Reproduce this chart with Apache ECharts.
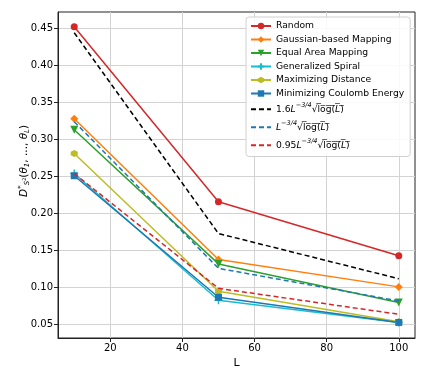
<!DOCTYPE html>
<html>
<head>
<meta charset="utf-8">
<script src="https://cdn.jsdelivr.net/npm/echarts@6/dist/echarts.min.js"></script>
<style>
  html, body { margin: 0; padding: 0; background: #fff; }
  #chart { width: 425px; height: 388px; }
</style>
</head>
<body>
<div id="chart"></div>
<script>
// sample sizes on the x axis
var L_values = [10, 50, 100];

// discrepancy per method
var randomVals   = [0.452, 0.216, 0.143];
var gaussianVals = [0.328, 0.138, 0.101];
var equalAreaVals = [0.313, 0.132, 0.080];
var spiralVals   = [0.254, 0.083, 0.053];
var maxDistVals  = [0.281, 0.095, 0.054];
var coulombVals  = [0.251, 0.087, 0.053];

// reference curves
var bound16Vals  = [0.444, 0.173, 0.112];
var bound1Vals   = [0.324, 0.126, 0.082];
var bound095Vals = [0.254, 0.099, 0.064];

var xTicks = [20, 40, 60, 80, 100];
var yTicks = [0.05, 0.10, 0.15, 0.20, 0.25, 0.30, 0.35, 0.40, 0.45];

function pairs(vals) {
  return L_values.map(function (l, i) { return [l, vals[i]]; });
}

var font = 'DejaVu Sans';
var plusPath = 'path://M5,0 L5,10 M0,5 L10,5';
var hexPath = 'path://M5,0 L9.33,2.5 L9.33,7.5 L5,10 L0.67,7.5 L0.67,2.5 Z';

function solid(name, vals, color, symbol, size, extra) {
  var s = {
    name: name,
    type: 'line',
    data: pairs(vals),
    symbol: symbol,
    symbolSize: size,
    lineStyle: { color: color, width: 1.5 },
    itemStyle: { color: color },
    z: 3
  };
  if (extra) { for (var k in extra) s[k] = extra[k]; }
  return s;
}

function dashed(name, vals, color) {
  return {
    name: name,
    type: 'line',
    data: pairs(vals),
    symbol: 'none',
    lineStyle: { color: color, width: 1.5, type: [5, 3] },
    itemStyle: { color: color },
    z: 4
  };
}

var overLog = 'l\u0305o\u0305g\u0305(\u0305';
var legendMath = {
  'b16': '{n|1.6}{i|L}{s|\u22123/4}{n|\u221A}{n|' + overLog + '}{i|L\u0305}{n|)\u0305}',
  'b1': '{i|L}{s|\u22123/4}{n|\u221A}{n|' + overLog + '}{i|L\u0305}{n|)\u0305}',
  'b095': '{n|0.95}{i|L}{s|\u22123/4}{n|\u221A}{n|' + overLog + '}{i|L\u0305}{n|)\u0305}'
};

var chart = echarts.init(document.getElementById('chart'));

var legendNames = ['Random', 'Gaussian-based Mapping', 'Equal Area Mapping', 'Generalized Spiral',
  'Maximizing Distance', 'Minimizing Coulomb Energy', 'b16', 'b1', 'b095'];

var option = {
  animation: false,
  textStyle: { fontFamily: font },
  grid: {
    left: 58, right: 10, top: 12, bottom: 50,
    outerBoundsMode: 'none',
    show: true, borderColor: '#222', borderWidth: 1
  },
  legend: {
    orient: 'vertical',
    left: 246, top: 17,
    padding: [3, 6, 3, 4],
    itemWidth: 20, itemHeight: 8,
    itemGap: 1.5,
    backgroundColor: 'rgba(255,255,255,0.85)',
    borderColor: '#d0d0d0', borderWidth: 1, borderRadius: 3,
    textStyle: {
      fontFamily: font, fontSize: 9.2, color: '#000', lineHeight: 12,
      rich: {
        n: { fontSize: 9.2, fontFamily: font, lineHeight: 16.5 },
        i: { fontSize: 9.2, fontFamily: font, fontStyle: 'italic', lineHeight: 16.5 },
        s: { fontSize: 6.5, fontFamily: font, fontStyle: 'italic', padding: [0, 0, 7, 0] }
      }
    },
    formatter: function (name) { return legendMath[name] || name; },
    data: legendNames.map(function (n) {
      if (n.charAt(0) === 'b') return { name: n, itemStyle: { opacity: 0 } };
      return { name: n };
    })
  },
  xAxis: {
    type: 'value',
    min: 5.5, max: 104.5,
    name: 'L', nameLocation: 'middle', nameGap: 20,
    nameMoveOverlap: false,
    nameTextStyle: { fontFamily: font, fontSize: 11, color: '#000' },
    axisLine: { show: true, onZero: false, lineStyle: { color: '#222' } },
    axisTick: { show: true, customValues: xTicks, length: 4, lineStyle: { color: '#222' } },
    axisLabel: { customValues: xTicks, fontFamily: font, fontSize: 10, color: '#000', margin: 5 },
    splitLine: { show: true, lineStyle: { color: '#d3d3d3', width: 1 } }
  },
  yAxis: {
    type: 'value',
    min: 0.032, max: 0.472,
    name: '{i|D}{sp|*}{sb|S}{sb2|2}{n|(}{i|\u03B8}{sb|1}{n|, ..., }{i|\u03B8}{sb|L}{n|)}',
    nameLocation: 'middle', nameGap: 26, nameRotate: 90,
    nameMoveOverlap: false,
    nameTextStyle: {
      fontFamily: font, fontSize: 10.5, color: '#000',
      padding: [0, 0, 0, 28],
      rich: {
        n: { fontSize: 10.5, fontFamily: font },
        i: { fontSize: 10.5, fontFamily: font, fontStyle: 'italic' },
        sp: { fontSize: 7.5, fontFamily: font, padding: [0, 0, 7, 0] },
        sb: { fontSize: 7, fontFamily: font, fontStyle: 'italic', padding: [5, 0, 0, 0] },
        sb2: { fontSize: 5, fontFamily: font }
      }
    },
    axisLine: { show: true, lineStyle: { color: '#222' } },
    axisTick: { show: true, customValues: yTicks, length: 4, lineStyle: { color: '#222' } },
    axisLabel: {
      customValues: yTicks, fontFamily: font, fontSize: 10, color: '#000', margin: 5,
      formatter: function (v) { return v.toFixed(2); }
    },
    splitLine: { show: true, lineStyle: { color: '#d3d3d3', width: 1 } }
  },
  series: [
    solid('Random', randomVals, '#d62728', 'circle', 7),
    solid('Gaussian-based Mapping', gaussianVals, '#ff7f0e', 'diamond', 8),
    solid('Equal Area Mapping', equalAreaVals, '#2ca02c', 'triangle', 8, { symbolRotate: 180 }),
    solid('Generalized Spiral', spiralVals, '#17becf', plusPath, 8,
      { itemStyle: { color: '#17becf', borderColor: '#17becf', borderWidth: 1.5 } }),
    solid('Maximizing Distance', maxDistVals, '#bcbd22', hexPath, 7),
    solid('Minimizing Coulomb Energy', coulombVals, '#1f77b4', 'rect', 7),
    dashed('b16', bound16Vals, '#000000'),
    dashed('b1', bound1Vals, '#1f77b4'),
    dashed('b095', bound095Vals, '#d62728')
  ]
};

chart.setOption(option);
</script>
</body>
</html>
